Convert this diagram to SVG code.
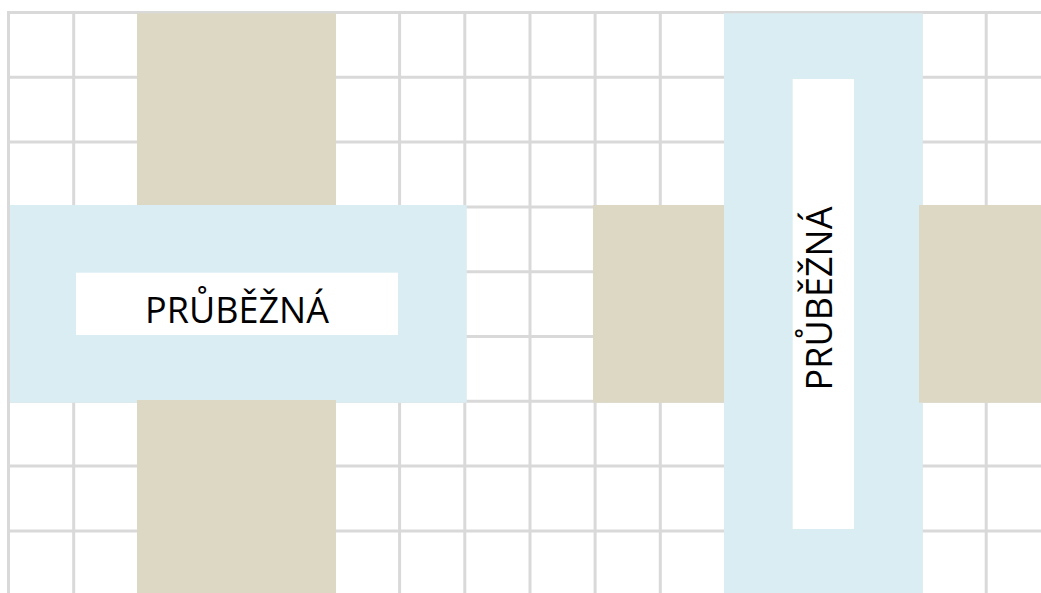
<svg xmlns="http://www.w3.org/2000/svg" width="1041" height="593" viewBox="0 0 1041 593">
<style>
.g{stroke:#d9d9d9;stroke-width:3;fill:none}
.tan{fill:#ddd8c4}
.blue{fill:#daedf3}
.hole{fill:#ffffff}
.lbl{font-family:"Open Sans","Liberation Sans",sans-serif;font-size:36px;fill:#000000;text-anchor:middle}
</style>
<rect x="0" y="0" width="1041" height="593" fill="#ffffff"/>
<g id="grid" class="g">
<path d="M8.5 11V593M73.7 11V593M138.9 11V593M204 11V593M269.2 11V593M334.4 11V593M399.6 11V593M464.8 11V593M530 11V593M595.1 11V593M660.3 11V593M725.5 11V593M790.7 11V593M855.9 11V593M921 11V593M986.2 11V593"/>
<path d="M7 12.5H1041M7 77.3H1041M7 142.1H1041M7 206.9H1041M7 271.7H1041M7 336.5H1041M7 401.3H1041M7 466.1H1041M7 530.9H1041"/>
</g>
<g id="left-cross">
<rect class="tan" x="137" y="13.3" width="199" height="192"/>
<rect class="blue" x="10" y="205" width="456.7" height="197.7"/>
<rect class="tan" x="137" y="400" width="199" height="193"/>
<rect class="hole" x="76" y="272.7" width="322" height="62.3"/>
<text class="lbl" x="237" y="323">PRŮBĚŽNÁ</text>
</g>
<g id="right-cross">
<rect class="tan" x="593" y="205" width="131" height="197.7"/>
<rect class="blue" x="724" y="13.3" width="198.7" height="579.7"/>
<rect class="tan" x="919" y="205" width="122" height="197.7"/>
<rect class="hole" x="792.7" y="79" width="61.3" height="450"/>
<text class="lbl" transform="translate(832 298.5) rotate(-90)" x="0" y="0">PRŮBĚŽNÁ</text>
</g>
</svg>
